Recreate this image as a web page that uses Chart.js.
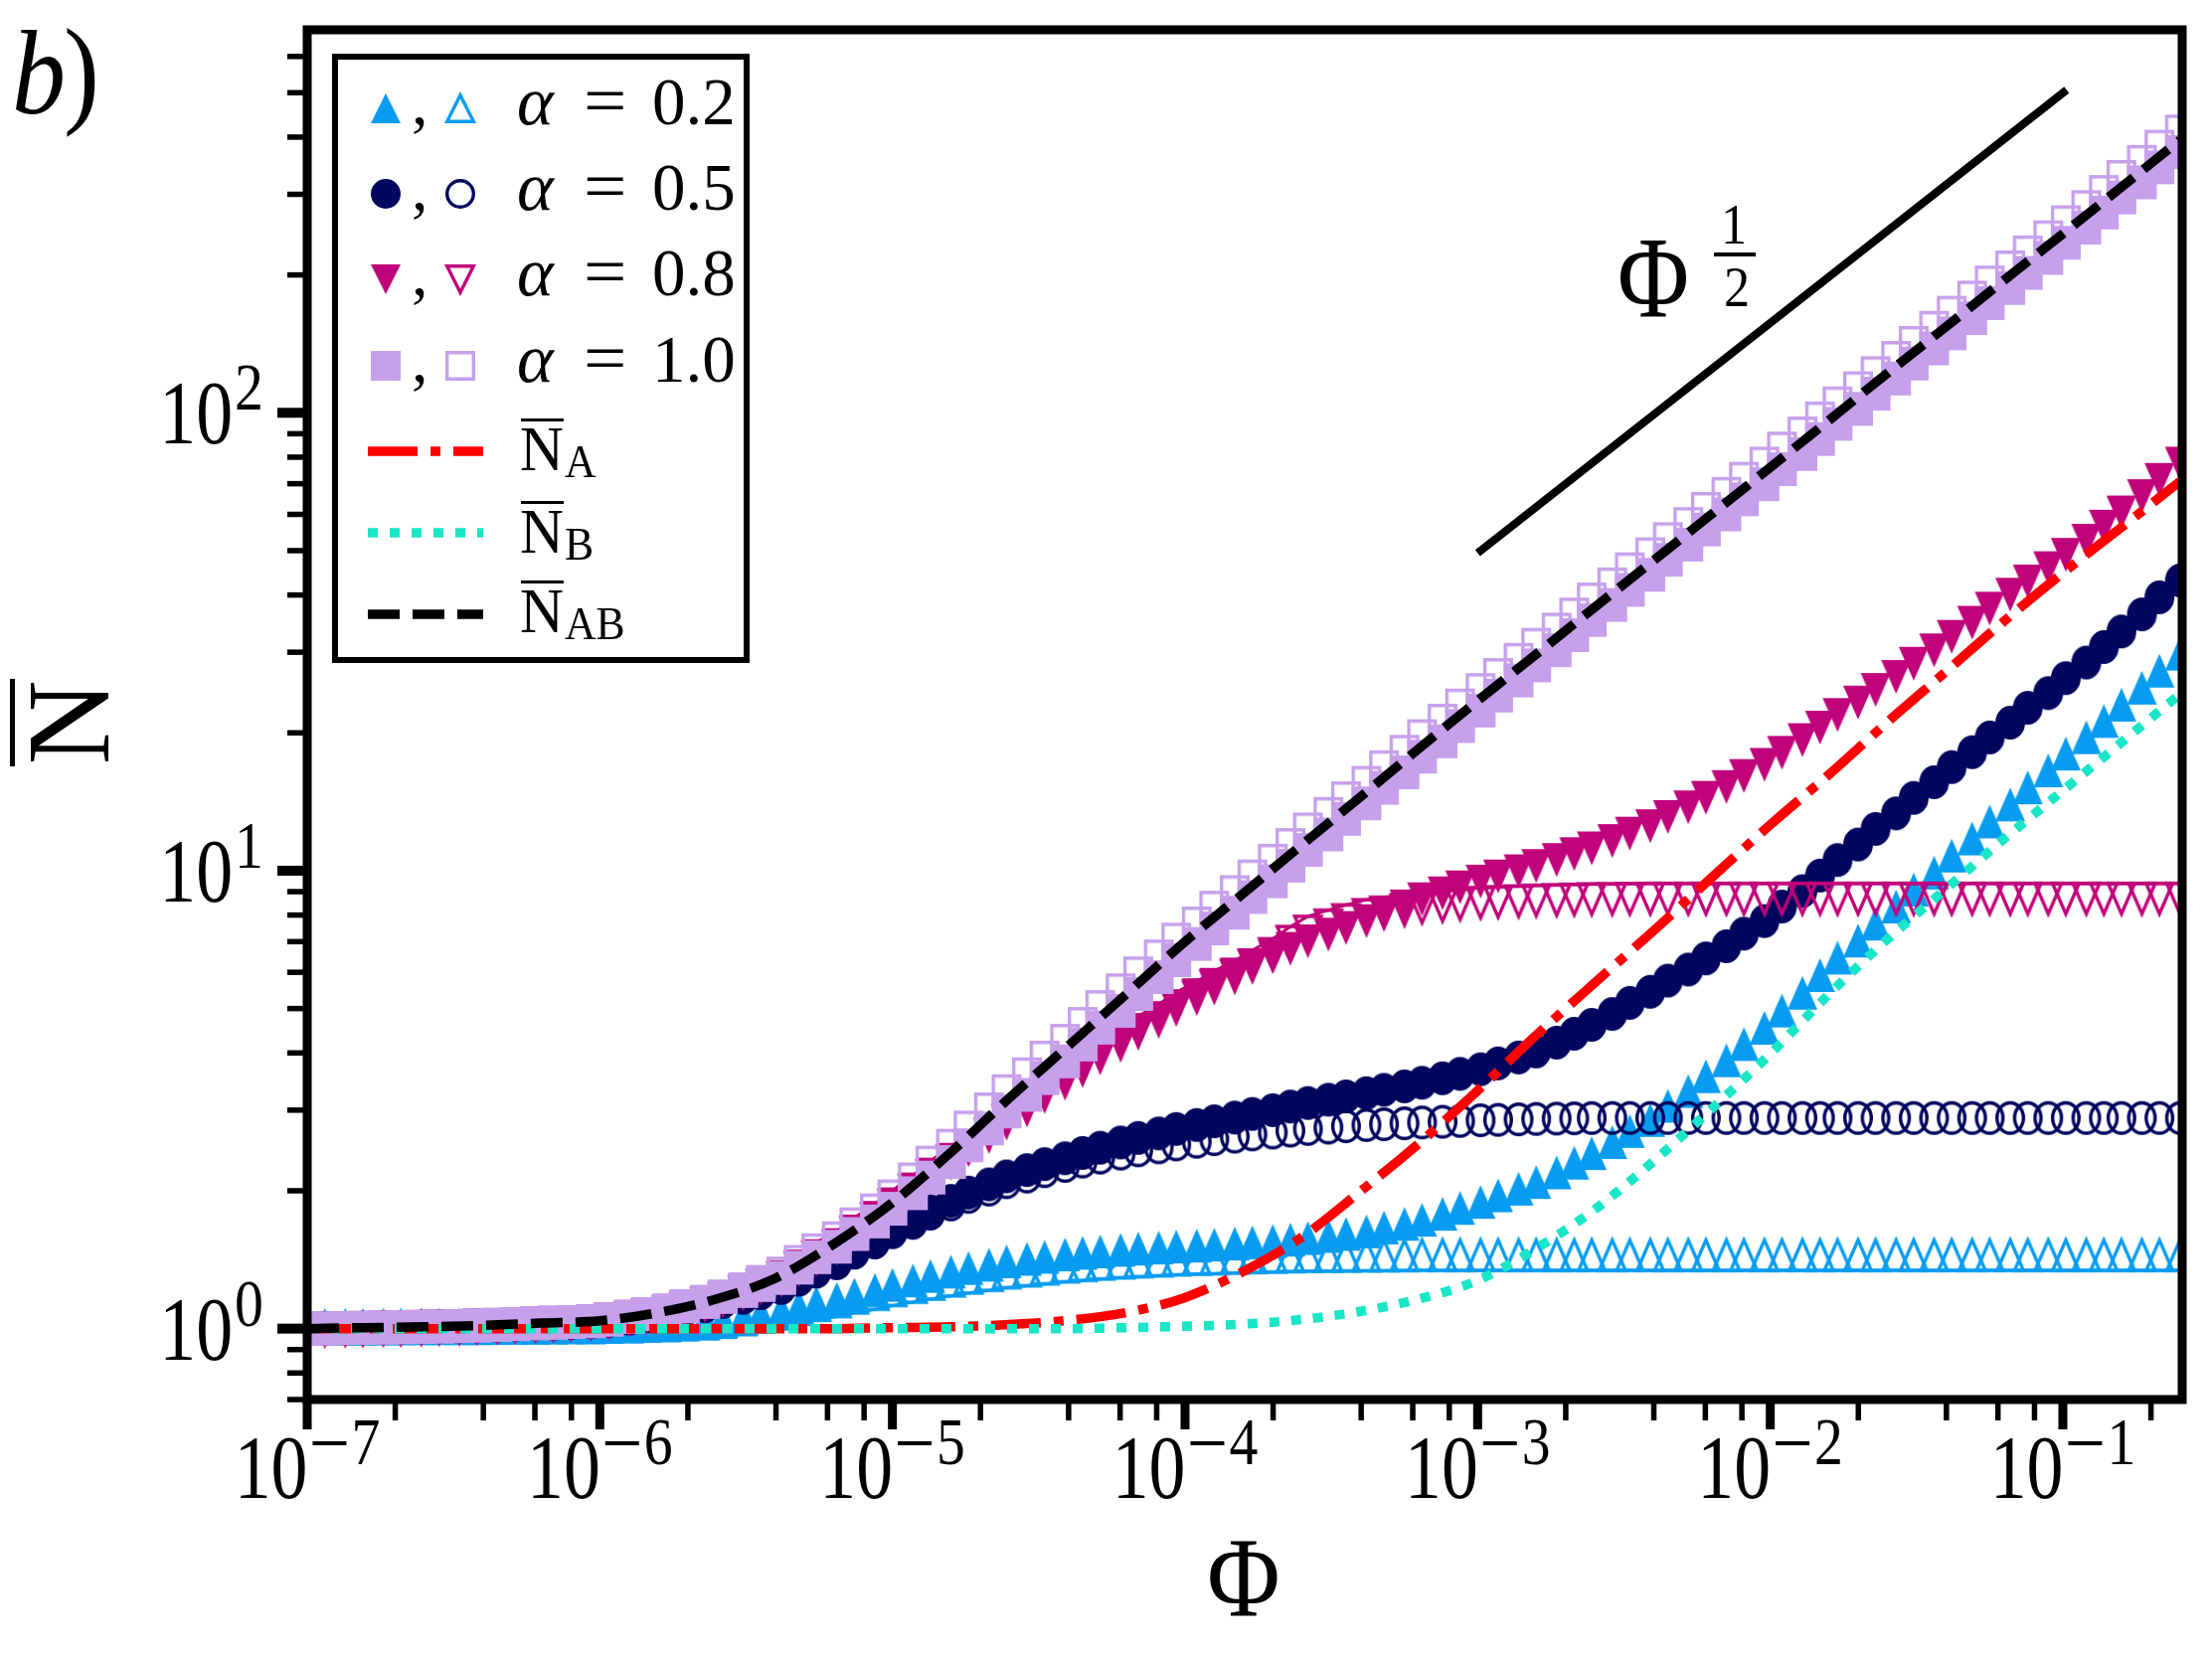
<!DOCTYPE html>
<html>
<head>
<meta charset="utf-8">
<script src="https://cdn.jsdelivr.net/npm/chart.js@4.4.1/dist/chart.umd.min.js"></script>
<style>
  html, body { margin: 0; padding: 0; background: #fff; }
  canvas { display: block; }
</style>
</head>
<body>
<canvas id="nChart" width="2225" height="1665"></canvas>
<script>
// sampling grid of the marker curves, log10(Phi)
const logPhi = [-7.00,-6.94,-6.87,-6.81,-6.74,-6.68,-6.61,-6.55,-6.48,-6.42,
  -6.35,-6.29,-6.22,-6.16,-6.10,-6.03,-5.97,-5.90,-5.84,-5.77,
  -5.71,-5.64,-5.58,-5.51,-5.45,-5.38,-5.32,-5.26,-5.19,-5.13,
  -5.06,-5.00,-4.93,-4.87,-4.80,-4.74,-4.67,-4.61,-4.54,-4.48,
  -4.41,-4.35,-4.29,-4.22,-4.16,-4.09,-4.03,-3.96,-3.90,-3.83,
  -3.77,-3.70,-3.64,-3.58,-3.51,-3.45,-3.38,-3.32,-3.25,-3.19,
  -3.12,-3.06,-2.99,-2.93,-2.86,-2.80,-2.73,-2.67,-2.61,-2.54,
  -2.48,-2.41,-2.35,-2.28,-2.22,-2.15,-2.09,-2.02,-1.96,-1.89,
  -1.83,-1.77,-1.70,-1.64,-1.57,-1.51,-1.44,-1.38,-1.31,-1.25,
  -1.18,-1.12,-1.05,-0.99,-0.92,-0.86,-0.80,-0.73,-0.67,-0.60];

// alpha = 0.2 (filled / open triangles)
const a02Filled = [1.000,1.000,1.000,1.000,1.001,1.001,1.002,1.002,1.002,1.002,
  1.003,1.004,1.004,1.005,1.006,1.006,1.008,1.010,1.013,1.016,
  1.020,1.025,1.033,1.047,1.061,1.077,1.102,1.127,1.153,1.183,
  1.214,1.246,1.274,1.303,1.332,1.356,1.379,1.403,1.420,1.435,
  1.452,1.464,1.475,1.486,1.495,1.503,1.511,1.518,1.526,1.534,
  1.543,1.554,1.564,1.577,1.594,1.610,1.631,1.662,1.693,1.729,
  1.781,1.835,1.891,1.955,2.021,2.090,2.194,2.303,2.417,2.554,
  2.701,2.855,3.066,3.303,3.559,3.855,4.183,4.539,4.950,5.412,
  5.917,6.459,7.037,7.663,8.351,9.093,9.906,10.79,11.76,12.81,
  13.95,15.20,16.56,18.02,19.56,21.23,23.05,25.10,27.34,29.79];
const a02Open = [0.933,0.933,0.933,0.933,0.934,0.935,0.935,0.935,0.935,0.935,
  0.936,0.937,0.937,0.938,0.939,0.939,0.941,0.943,0.945,0.948,
  0.952,0.957,0.964,0.977,0.990,1.005,1.024,1.043,1.062,1.082,
  1.102,1.123,1.142,1.160,1.179,1.196,1.212,1.228,1.240,1.252,
  1.265,1.274,1.283,1.291,1.298,1.304,1.310,1.315,1.318,1.322,
  1.326,1.329,1.332,1.334,1.335,1.336,1.337,1.338,1.339,1.340,
  1.340,1.340,1.340,1.340,1.340,1.340,1.340,1.340,1.340,1.340,
  1.340,1.340,1.340,1.340,1.340,1.340,1.340,1.340,1.340,1.340,
  1.340,1.340,1.340,1.340,1.340,1.340,1.340,1.340,1.340,1.340,
  1.340,1.340,1.340,1.340,1.340,1.340,1.340,1.340,1.340,1.340];

// alpha = 0.5 (filled / open circles)
const a05Filled = [1.000,1.001,1.003,1.004,1.006,1.007,1.009,1.011,1.013,1.016,
  1.018,1.021,1.024,1.027,1.031,1.034,1.041,1.053,1.065,1.080,
  1.100,1.121,1.144,1.169,1.196,1.228,1.280,1.333,1.391,1.466,
  1.544,1.626,1.714,1.805,1.901,1.982,2.065,2.150,2.219,2.287,
  2.355,2.419,2.483,2.549,2.609,2.668,2.729,2.784,2.836,2.890,
  2.943,2.999,3.055,3.110,3.162,3.214,3.267,3.323,3.381,3.443,
  3.521,3.600,3.684,3.795,3.910,4.029,4.213,4.406,4.606,4.866,
  5.145,5.440,5.754,6.084,6.434,6.840,7.287,7.762,8.350,9.024,
  9.759,10.55,11.41,12.34,13.34,14.42,15.60,16.84,18.15,19.54,
  21.05,22.68,24.43,26.34,28.48,30.79,33.30,36.29,39.54,43.05];
const a05Open = [1.000,1.001,1.003,1.004,1.006,1.007,1.009,1.011,1.013,1.016,
  1.018,1.021,1.024,1.027,1.031,1.034,1.041,1.053,1.065,1.080,
  1.100,1.121,1.144,1.169,1.196,1.228,1.280,1.333,1.391,1.466,
  1.544,1.626,1.702,1.783,1.867,1.939,2.012,2.088,2.148,2.207,
  2.266,2.316,2.363,2.411,2.451,2.488,2.525,2.559,2.592,2.625,
  2.655,2.680,2.706,2.729,2.748,2.767,2.783,2.795,2.808,2.820,
  2.830,2.841,2.851,2.857,2.864,2.871,2.875,2.879,2.883,2.884,
  2.884,2.884,2.884,2.884,2.884,2.884,2.884,2.884,2.884,2.884,
  2.884,2.884,2.884,2.884,2.884,2.884,2.884,2.884,2.884,2.884,
  2.884,2.884,2.884,2.884,2.884,2.884,2.884,2.884,2.884,2.884];

// alpha = 0.8 (filled / open down triangles)
const a08Filled = [1.000,1.001,1.003,1.004,1.006,1.007,1.009,1.011,1.013,1.016,
  1.019,1.023,1.027,1.030,1.034,1.038,1.047,1.061,1.076,1.094,
  1.117,1.140,1.169,1.208,1.248,1.296,1.366,1.440,1.522,1.630,
  1.745,1.869,2.014,2.170,2.337,2.500,2.673,2.858,3.055,3.268,
  3.494,3.725,3.968,4.227,4.491,4.768,5.062,5.349,5.635,5.935,
  6.218,6.478,6.750,7.011,7.250,7.496,7.758,8.054,8.359,8.663,
  8.926,9.195,9.467,9.716,9.972,10.24,10.55,10.87,11.19,11.61,
  12.05,12.51,13.10,13.75,14.43,15.23,16.10,17.03,18.09,19.28,
  20.53,21.88,23.29,24.82,26.49,28.31,30.28,32.42,34.79,37.35,
  40.06,42.81,45.78,48.96,52.56,56.41,60.59,65.77,71.37,77.45];
const a08Open = [1.072,1.073,1.075,1.076,1.078,1.079,1.081,1.083,1.085,1.089,
  1.092,1.096,1.100,1.104,1.108,1.112,1.122,1.137,1.153,1.172,
  1.197,1.222,1.253,1.294,1.337,1.389,1.464,1.543,1.631,1.747,
  1.870,2.003,2.158,2.325,2.504,2.679,2.864,3.062,3.273,3.502,
  3.744,3.991,4.252,4.529,4.812,5.109,5.424,5.731,6.038,6.359,
  6.700,7.100,7.550,7.950,8.200,8.420,8.642,8.752,8.864,8.968,
  9.043,9.116,9.188,9.222,9.256,9.290,9.311,9.333,9.352,9.361,
  9.367,9.376,9.376,9.376,9.376,9.376,9.376,9.376,9.376,9.376,
  9.376,9.376,9.376,9.376,9.376,9.376,9.376,9.376,9.376,9.376,
  9.376,9.376,9.376,9.376,9.376,9.376,9.376,9.376,9.376,9.376];

// alpha = 1.0 (filled / open squares)
const a10Filled = [1.000,1.001,1.003,1.004,1.006,1.007,1.009,1.011,1.013,1.016,
  1.019,1.023,1.027,1.030,1.034,1.038,1.047,1.061,1.076,1.094,
  1.119,1.144,1.173,1.208,1.245,1.290,1.359,1.432,1.510,1.609,
  1.714,1.827,1.976,2.137,2.311,2.513,2.736,2.979,3.240,3.525,
  3.834,4.173,4.542,4.943,5.381,5.857,6.377,6.918,7.484,8.095,
  8.762,9.483,10.26,11.10,12.00,12.98,14.03,15.17,16.40,17.74,
  19.17,20.70,22.37,24.13,26.03,28.08,30.30,32.69,35.27,38.05,
  41.04,44.29,47.77,51.54,55.62,59.99,64.71,69.82,75.32,81.26,
  87.66,94.60,102.0,110.1,118.8,128.1,138.2,149.1,160.9,173.6,
  187.3,202.0,217.9,235.1,253.7,273.7,295.3,318.6,343.6,370.8];
const a10Open = [1.000,1.001,1.003,1.004,1.006,1.007,1.009,1.011,1.013,1.016,
  1.019,1.023,1.027,1.030,1.034,1.038,1.047,1.061,1.076,1.094,
  1.119,1.144,1.176,1.219,1.265,1.319,1.399,1.483,1.576,1.690,
  1.813,1.945,2.118,2.305,2.509,2.749,3.012,3.301,3.594,3.909,
  4.253,4.628,5.038,5.483,5.968,6.497,7.072,7.673,8.304,8.982,
  9.719,10.52,11.38,12.31,13.31,14.40,15.56,16.83,18.19,19.67,
  21.26,22.96,24.81,26.76,28.88,31.15,33.61,36.26,39.12,42.21,
  45.53,49.12,52.99,57.17,61.68,66.55,71.78,77.45,83.55,90.15,
  97.23,104.9,113.2,122.1,131.8,142.1,153.3,165.4,178.5,192.6,
  207.8,224.1,241.8,260.8,281.4,303.6,327.5,353.3,381.1,411.4];

// smooth curves N_A, N_B, N_AB
const lineLogPhi = [-7.0,-6.8,-6.6,-6.4,-6.2,-6.0,-5.8,-5.6,-5.4,-5.2,-5.0,-4.8,-4.6,-4.4,-4.2,-4.0,
  -3.8,-3.6,-3.4,-3.2,-3.0,-2.8,-2.6,-2.4,-2.2,-2.0,-1.8,-1.6,-1.4,-1.2,-1.0,-0.8,-0.6];
const nA = [1,1,1,1,1,1,1,1,1,1,1.005,1.009,1.021,1.042,1.084,1.169,
  1.334,1.585,1.995,2.54,3.31,4.37,5.69,7.38,9.66,12.6,16.2,21.1,27.2,35.1,44.7,56.2,70.8];
const nB = [1,1,1,1,1,1,1,1,1,1,1,1,1,1,1.005,1.012,
  1.023,1.047,1.091,1.161,1.274,1.496,1.820,2.317,3.02,3.98,5.37,7.08,9.12,11.75,14.96,19.05,24.3];
const nAB = [1.000,1.005,1.009,1.016,1.028,1.040,1.084,1.161,1.288,1.531,1.884,2.427,3.19,4.14,5.38,7.00,
  8.93,11.4,14.5,18.5,23.5,29.7,37.6,47.5,60.1,76.0,96.2,122,154,195,246,311,394];

// Phi^(1/2) guide line
const refPhi = [1e-3, 0.103];
const refN = [49.4, 507];

// axes
const xTickExp = [-7, -6, -5, -4, -3, -2, -1];
const yTickExp = [0, 1, 2];
const xMinorMul = [2, 4, 6, 8];
const yMinorMul = [2, 3, 4, 5, 6, 7, 8, 9];

const C = {
  a02: '#089cf0',
  a05: '#03065f',
  a08: '#c0037a',
  a10: '#c6a0eb',
  nA: '#ff0000',
  nB: '#19e6c6',
  nAB: '#000000'
};

const DASH_A = [50, 13, 10, 13];
const DASH_B = [10, 12];
const DASH_AB = [32, 13];
const LINE_W = 9.5;

const SERIF = '"Liberation Serif", "DejaVu Serif", serif';

// marker images (matplotlib-like shapes); baseAnchor puts the triangle base on the data point
function makeMarker(shape, color, filled, baseAnchor, W, H) {
  const lw = 3.4, pad = 4;
  const c = document.createElement('canvas');
  const h = baseAnchor ? 2 * H + 2 * pad : H + 2 * pad;
  c.width = W + 2 * pad;
  c.height = h;
  const g = c.getContext('2d');
  g.translate(c.width / 2, h / 2);
  const w = filled ? W : W - lw;
  const hh = filled ? H : H - lw;
  let oy = 0;
  if (baseAnchor) oy = shape === 'up' ? -hh / 2 : hh / 2;
  g.beginPath();
  if (shape === 'up') {
    g.moveTo(0, oy - hh / 2); g.lineTo(w / 2, oy + hh / 2); g.lineTo(-w / 2, oy + hh / 2); g.closePath();
  } else if (shape === 'down') {
    g.moveTo(0, oy + hh / 2); g.lineTo(w / 2, oy - hh / 2); g.lineTo(-w / 2, oy - hh / 2); g.closePath();
  } else if (shape === 'circle') {
    g.ellipse(0, oy, w / 2, hh / 2, 0, 0, Math.PI * 2);
  } else {
    g.rect(-w / 2, oy - hh / 2, w, hh);
  }
  if (filled) {
    g.fillStyle = color; g.fill();
  } else {
    g.lineWidth = lw; g.strokeStyle = color; g.lineJoin = 'miter'; g.stroke();
  }
  return c;
}

const MW = 30, MH = 34;   // plot markers
const LS = 30;            // legend markers
const M = {
  a02f: makeMarker('up', C.a02, true, false, MW, MH),
  a02o: makeMarker('up', C.a02, false, true, MW, MH),
  a05f: makeMarker('circle', C.a05, true, false, MW, MH),
  a05o: makeMarker('circle', C.a05, false, false, MW, MH),
  a08f: makeMarker('down', C.a08, true, false, MW, MH),
  a08o: makeMarker('down', C.a08, false, true, MW, MH),
  a10f: makeMarker('square', C.a10, true, false, MW, MH),
  a10o: makeMarker('square', C.a10, false, false, MW, MH)
};
const L = {
  a02f: makeMarker('up', C.a02, true, false, LS, LS),
  a02o: makeMarker('up', C.a02, false, false, LS, LS),
  a05f: makeMarker('circle', C.a05, true, false, LS, LS),
  a05o: makeMarker('circle', C.a05, false, false, LS, LS),
  a08f: makeMarker('down', C.a08, true, false, LS, LS),
  a08o: makeMarker('down', C.a08, false, false, LS, LS),
  a10f: makeMarker('square', C.a10, true, false, LS, LS),
  a10o: makeMarker('square', C.a10, false, false, LS, LS)
};

function pts(xs, ys) {
  return xs.map((t, i) => ({ x: Math.pow(10, t), y: ys[i] }));
}

function markerSet(label, ys, img, color, thinLine) {
  return {
    label: label,
    data: pts(logPhi, ys),
    showLine: !!thinLine,
    borderColor: color,
    borderWidth: thinLine ? 3 : 0,
    pointStyle: img,
    pointRadius: 16,
    pointBorderWidth: 0,
    pointHoverRadius: 16,
    clip: 0
  };
}

function curveSet(label, ys, color, dash) {
  return {
    label: label,
    data: pts(lineLogPhi, ys),
    borderColor: color,
    borderWidth: LINE_W,
    borderDash: dash,
    borderCapStyle: 'butt',
    pointRadius: 0,
    cubicInterpolationMode: 'monotone',
    clip: 0
  };
}

// text helpers (tick labels in the figure are horizontally condensed)
function textW(ctx, s, size, sx, italic) {
  ctx.font = (italic ? 'italic ' : '') + size + 'px ' + SERIF;
  return ctx.measureText(s).width * sx;
}
function drawText(ctx, s, x, y, size, sx, italic) {
  ctx.save();
  ctx.font = (italic ? 'italic ' : '') + size + 'px ' + SERIF;
  ctx.textAlign = 'left';
  ctx.textBaseline = 'alphabetic';
  ctx.fillStyle = '#000';
  ctx.translate(x, y);
  ctx.scale(sx, 1);
  ctx.fillText(s, 0, 0);
  ctx.restore();
}
function powLabel(ctx, exp, x, y, align) {
  const bs = 90, bsx = 0.82, es = 68, esx = 0.85;
  const wBase = textW(ctx, '10', bs, bsx);
  const digits = String(Math.abs(exp));
  const wMinus = exp < 0 ? 42 : 0;
  const wExp = wMinus + textW(ctx, digits, es, esx) + 2;
  const total = wBase + wExp;
  let x0 = align === 'center' ? x - total / 2 : x - total;
  drawText(ctx, '10', x0, y, bs, bsx);
  let xe = x0 + wBase + 2;
  if (exp < 0) {
    ctx.fillStyle = '#000';
    ctx.fillRect(xe + 3, y - 57, wMinus - 8, 4);
    xe += wMinus;
  }
  drawText(ctx, digits, xe, y - 34, es, esx);
}

const decor = {
  id: 'decor',
  afterDraw(chart) {
    const ctx = chart.ctx;
    const a = chart.chartArea;
    const xs = chart.scales.x, ys = chart.scales.y;
    ctx.save();
    ctx.strokeStyle = '#000';
    ctx.lineCap = 'butt';
    const line = (x1, y1, x2, y2, w) => {
      ctx.lineWidth = w; ctx.beginPath(); ctx.moveTo(x1, y1); ctx.lineTo(x2, y2); ctx.stroke();
    };

    // x ticks
    xTickExp.forEach(e => {
      const px = xs.getPixelForValue(Math.pow(10, e));
      line(px, a.bottom, px, a.bottom + 30, 9);
      xMinorMul.forEach(m => {
        const v = m * Math.pow(10, e);
        if (v <= xs.max) {
          const q = xs.getPixelForValue(v);
          line(q, a.bottom, q, a.bottom + 21, 5.5);
        }
      });
    });
    // y ticks
    [-1, 0, 1, 2].forEach(e => {
      yMinorMul.forEach(m => {
        const v = m * Math.pow(10, e);
        if (v >= ys.min && v <= ys.max) {
          const q = ys.getPixelForValue(v);
          line(a.left, q, a.left - 20, q, 5.5);
        }
      });
    });
    yTickExp.forEach(e => {
      const py = ys.getPixelForValue(Math.pow(10, e));
      line(a.left, py, a.left - 30, py, 10);
    });

    // frame
    ctx.lineWidth = 9;
    ctx.lineJoin = 'miter';
    ctx.strokeRect(a.left, a.top, a.right - a.left, a.bottom - a.top);

    // tick labels
    xTickExp.forEach(e => powLabel(ctx, e, xs.getPixelForValue(Math.pow(10, e)), 1507, 'center'));
    yTickExp.forEach(e => powLabel(ctx, e, 265, ys.getPixelForValue(Math.pow(10, e)) + 31, 'right'));

    // axis titles
    const wPhi = textW(ctx, 'Φ', 114, 0.88);
    drawText(ctx, 'Φ', 1251 - wPhi / 2, 1625, 114, 0.88);
    ctx.save();
    ctx.translate(69, 727);
    ctx.rotate(-Math.PI / 2);
    ctx.font = '118px ' + SERIF;
    ctx.textAlign = 'center';
    ctx.textBaseline = 'alphabetic';
    ctx.fillStyle = '#000';
    ctx.fillText('N', 0, 40);
    ctx.fillRect(-44, -59, 88, 5);
    ctx.restore();

    // panel tag
    drawText(ctx, 'b', 12, 114, 120, 0.9, true);
    drawText(ctx, ')', 64, 112, 120, 0.9);

    // Phi^(1/2) annotation
    drawText(ctx, 'Φ', 1627, 319, 116, 0.85);
    const w1 = textW(ctx, '1', 58, 0.9);
    drawText(ctx, '1', 1744 - w1 / 2, 245, 58, 0.9);
    ctx.fillStyle = '#000';
    ctx.fillRect(1724, 254, 42, 4);
    const w2 = textW(ctx, '2', 58, 0.9);
    drawText(ctx, '2', 1747 - w2 / 2, 308, 58, 0.9);

    // legend
    ctx.fillStyle = '#fff';
    ctx.fillRect(337, 57, 414, 607);
    ctx.lineWidth = 6;
    ctx.strokeStyle = '#000';
    ctx.strokeRect(337, 57, 414, 607);

    const rows = [
      { f: L.a02f, o: L.a02o, txt: '0.2' },
      { f: L.a05f, o: L.a05o, txt: '0.5' },
      { f: L.a08f, o: L.a08o, txt: '0.8' },
      { f: L.a10f, o: L.a10o, txt: '1.0' }
    ];
    const baseY = [125, 211, 297, 384];
    rows.forEach((r, i) => {
      const cy = baseY[i] - 16;
      ctx.drawImage(r.f, 388 - r.f.width / 2, cy - r.f.height / 2);
      drawText(ctx, ',', 414, baseY[i], 66, 1);
      ctx.drawImage(r.o, 463 - r.o.width / 2, cy - r.o.height / 2);
      drawText(ctx, 'α', 520, baseY[i], 70, 1, true);
      drawText(ctx, '=', 587, baseY[i], 70, 1.1);
      drawText(ctx, r.txt, 656, baseY[i], 67, 1);
    });

    const lrows = [
      { c: C.nA, d: DASH_A, sub: 'A', ly: 454, by: 473 },
      { c: C.nB, d: DASH_B, sub: 'B', ly: 536, by: 556 },
      { c: C.nAB, d: DASH_AB, sub: 'AB', ly: 618, by: 636 }
    ];
    lrows.forEach(r => {
      ctx.save();
      ctx.strokeStyle = r.c;
      ctx.lineWidth = LINE_W;
      ctx.setLineDash(r.d);
      ctx.beginPath();
      ctx.moveTo(370, r.ly);
      ctx.lineTo(486, r.ly);
      ctx.stroke();
      ctx.restore();
      drawText(ctx, 'N', 523, r.by, 64, 0.95);
      ctx.fillStyle = '#000';
      ctx.fillRect(524, r.by - 52, 43, 3);
      drawText(ctx, r.sub, 568, r.by + 7, 46, 0.95);
    });

    ctx.restore();
  }
};

// draw order: first dataset ends up on top
new Chart(document.getElementById('nChart'), {
  type: 'line',
  plugins: [decor],
  data: {
    datasets: [
      {
        label: 'Phi^1/2',
        data: refPhi.map((v, i) => ({ x: v, y: refN[i] })),
        borderColor: '#000',
        borderWidth: 8,
        pointRadius: 0,
        clip: 0
      },
      curveSet('N_AB', nAB, C.nAB, DASH_AB),
      curveSet('N_B', nB, C.nB, DASH_B),
      curveSet('N_A', nA, C.nA, DASH_A),
      markerSet('alpha=1.0', a10Filled, M.a10f, C.a10),
      markerSet('alpha=1.0 open', a10Open, M.a10o, C.a10),
      markerSet('alpha=0.8', a08Filled, M.a08f, C.a08),
      markerSet('alpha=0.8 open', a08Open, M.a08o, C.a08, true),
      markerSet('alpha=0.5', a05Filled, M.a05f, C.a05),
      markerSet('alpha=0.5 open', a05Open, M.a05o, C.a05),
      markerSet('alpha=0.2', a02Filled, M.a02f, C.a02),
      markerSet('alpha=0.2 open', a02Open, M.a02o, C.a02, true)
    ]
  },
  options: {
    responsive: false,
    animation: false,
    devicePixelRatio: 1,
    layout: { padding: { left: 309, right: 30, top: 30, bottom: 257 } },
    plugins: {
      legend: { display: false },
      tooltip: { enabled: false }
    },
    scales: {
      x: { type: 'logarithmic', min: 1e-7, max: 0.2557, display: false },
      y: { type: 'logarithmic', min: 0.735, max: 686, display: false }
    }
  }
});
</script>
</body>
</html>
